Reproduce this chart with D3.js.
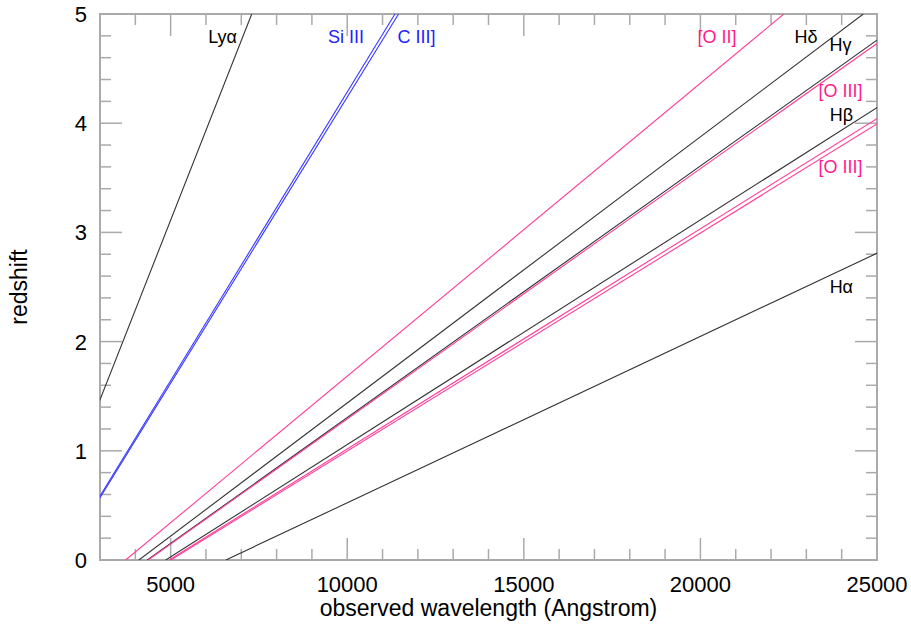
<!DOCTYPE html>
<html>
<head>
<meta charset="utf-8">
<script src="https://cdn.jsdelivr.net/npm/d3@7"></script>
<style>
  body { margin: 0; background: #fff; }
  text { font-family: "Liberation Sans", Arial, sans-serif; }
</style>
</head>
<body>
<div id="chart"></div>
<script>
// rest wavelengths (Angstrom) of the emission lines: z = obs/rest - 1
const lineNames = ["Lyα", "Si III", "C III]", "[O II]", "Hδ", "Hγ", "[O III]", "Hβ", "[O III]", "[O III]", "Hα"];
const restWavelengths = [1216, 1892, 1909, 3727, 4102, 4340, 4363, 4861, 4959, 5007, 6563];
const lineGroups = ["black", "blue", "blue", "pink", "black", "black", "pink", "black", "pink", "pink", "black"];

// label anchors (observed wavelength, redshift at text baseline)
const labelText = ["Lyα", "Si III", "C III]", "[O II]", "Hδ", "Hγ", "[O III]", "Hβ", "[O III]", "Hα"];
const labelWl = [6470, 9965, 11960, 20470, 22990, 23970, 23970, 23990, 23970, 23990];
const labelZ = [4.73, 4.73, 4.73, 4.73, 4.73, 4.66, 4.24, 4.02, 3.54, 2.445];
const labelGroups = ["black", "blue", "blue", "pink", "black", "black", "pink", "black", "pink", "black"];

const xTicks = [5000, 10000, 15000, 20000, 25000];
const yTicks = [0, 1, 2, 3, 4, 5];

const lineColor = { black: "#333", blue: "#3a3aff", pink: "#ff3d9a" };
const textColor = { black: "#000", blue: "#2222ff", pink: "#ff1a8c" };

const margin = { top: 14, right: 34, bottom: 72, left: 100 },
  width = 911 - margin.left - margin.right,
  height = 632 - margin.top - margin.bottom;

const svg = d3
  .select("#chart")
  .append("svg")
  .attr("width", 911)
  .attr("height", 632)
  .append("g")
  .attr("transform", `translate(${margin.left}, ${margin.top})`);

const x = d3.scaleLinear().domain([3000, 25000]).range([0, width]);
const y = d3.scaleLinear().domain([0, 5]).range([height, 0]);

svg
  .append("clipPath")
  .attr("id", "clip")
  .append("rect")
  .attr("width", width)
  .attr("height", height);

// ticks, pointing inward on all four sides
const frame = svg.append("g").attr("stroke", "#aaa").attr("stroke-width", 1.5);
const xMinor = d3.range(3000, 25001, 1000);
const yMinor = d3.range(0, 5.001, 0.2);
xMinor.forEach((v) => {
  const len = v % 5000 === 0 ? 22 : 11;
  frame.append("line").attr("x1", x(v)).attr("x2", x(v)).attr("y1", height).attr("y2", height - len);
  frame.append("line").attr("x1", x(v)).attr("x2", x(v)).attr("y1", 0).attr("y2", len);
});
yMinor.forEach((v) => {
  const len = Math.abs(v - Math.round(v)) < 1e-6 ? 22 : 11;
  frame.append("line").attr("y1", y(v)).attr("y2", y(v)).attr("x1", 0).attr("x2", len);
  frame.append("line").attr("y1", y(v)).attr("y2", y(v)).attr("x1", width).attr("x2", width - len);
});
frame
  .append("rect")
  .attr("width", width)
  .attr("height", height)
  .attr("fill", "none")
  .attr("stroke-width", 2);

// tick labels
svg
  .append("g")
  .selectAll("text")
  .data(xTicks)
  .join("text")
  .attr("x", (d) => x(d))
  .attr("y", height + 32)
  .attr("text-anchor", "middle")
  .attr("font-size", "22px")
  .text((d) => d);

svg
  .append("g")
  .selectAll("text")
  .data(yTicks)
  .join("text")
  .attr("x", -13)
  .attr("y", (d) => y(d))
  .attr("dy", "0.36em")
  .attr("text-anchor", "end")
  .attr("font-size", "22px")
  .text((d) => d);

svg
  .append("text")
  .attr("x", x(14000))
  .attr("y", height + 56)
  .attr("text-anchor", "middle")
  .attr("font-size", "23px")
  .text("observed wavelength (Angstrom)");

svg
  .append("text")
  .attr("transform", `translate(${-73}, ${y(2.5)}) rotate(-90)`)
  .attr("text-anchor", "middle")
  .attr("font-size", "23px")
  .text("redshift");

// emission lines
const lines = svg.append("g").attr("clip-path", "url(#clip)");
restWavelengths.forEach((rest, i) => {
  lines
    .append("line")
    .attr("x1", x(rest))
    .attr("y1", y(0))
    .attr("x2", x(rest * 6))
    .attr("y2", y(5))
    .attr("stroke", lineColor[lineGroups[i]])
    .attr("stroke-width", 1.1);
});

svg
  .append("g")
  .selectAll("text")
  .data(labelText)
  .join("text")
  .attr("x", (d, i) => x(labelWl[i]))
  .attr("y", (d, i) => y(labelZ[i]))
  .attr("text-anchor", "middle")
  .attr("font-size", "18px")
  .attr("fill", (d, i) => textColor[labelGroups[i]])
  .text((d) => d);
</script>
</body>
</html>
